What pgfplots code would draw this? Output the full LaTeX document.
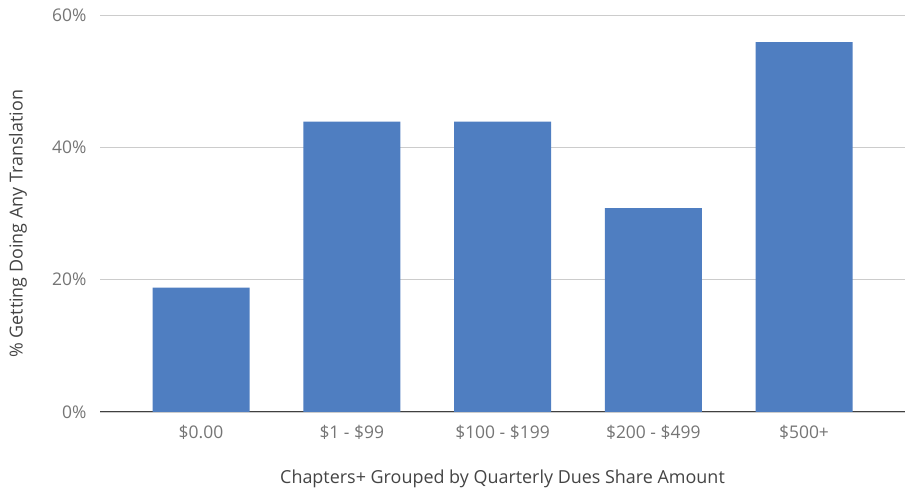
\documentclass[border=0pt]{standalone}
\usepackage{fontspec}
\setmainfont{Open Sans}
\usepackage{pgfplots}
\pgfplotsset{compat=1.18}
\definecolor{barblue}{RGB}{79,126,193}
\definecolor{tickgray}{RGB}{117,117,117}
\definecolor{titlegray}{RGB}{68,68,68}
\definecolor{gridgray}{RGB}{204,204,204}
\begin{document}
\begin{tikzpicture}[x=1bp,y=1bp]
\useasboundingbox (0,0) rectangle (910,490);
\begin{axis}[
  at={(100bp,78bp)}, anchor=south west,
  scale only axis, width=805bp, height=397bp,
  xmin=-0.67, xmax=4.67, ymin=0, ymax=60,
  ybar, bar width=97bp,
  xtick=data,
  xticklabels={\$0.00,\$1 - \$99,\$100 - \$199,\$200 - \$499,\$500+},
  ytick={0,20,40,60},
  yticklabel={\pgfmathprintnumber{\tick}\%},
  /pgf/number format/assume math mode=true,
  ymajorgrids, grid style={gridgray, line width=0.8pt},
  axis x line*=bottom, axis y line*=left,
  y axis line style={draw=none},
  x axis line style={draw=black!75, line width=1pt, -},
  major tick length=0pt,
  tick label style={font=\fontsize{17.5}{20}\selectfont, text=tickgray},
  yticklabel style={anchor=east, xshift=-10bp},
  xticklabel style={yshift=-10bp},
  xlabel={Chapters+ Grouped by Quarterly Dues Share Amount},
  ylabel={\% Getting Doing Any Translation},
  label style={font=\fontsize{18}{20}\selectfont, text=titlegray},
  xlabel style={at={(axis description cs:0.5,0)}, anchor=base, yshift=-72bp},
  ylabel style={at={(axis description cs:-0.096,0.474)}, anchor=base},
  clip=false,
]
\addplot[fill=barblue, draw=none] coordinates {(0,18.8) (1,43.9) (2,43.9) (3,30.8) (4,55.9)};
\end{axis}
\end{tikzpicture}
\end{document}
